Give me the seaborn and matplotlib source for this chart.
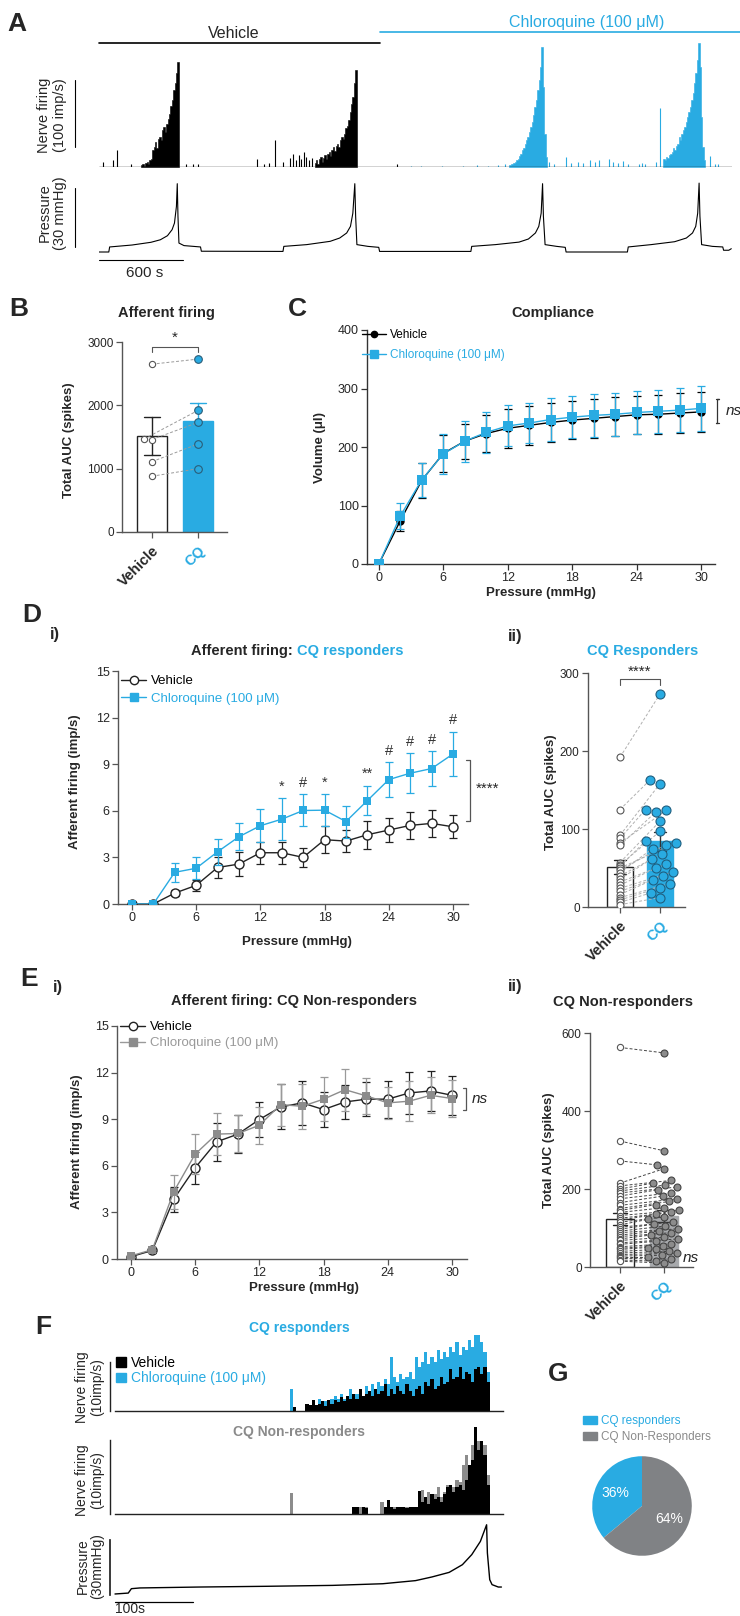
import numpy as np
import matplotlib
matplotlib.use("Agg")
import matplotlib.pyplot as plt
from matplotlib.lines import Line2D
from matplotlib.patches import Patch
import seaborn as sns

sns.set_theme(style="ticks")
plt.rcParams["font.family"] = ["Liberation Sans", "DejaVu Sans"]
NARROW = ["Liberation Sans Narrow", "Liberation Sans", "DejaVu Sans"]

CYAN = "#29abe2"
GREY_DOT = "#8c8c8c"
GREY_LINE = "#9a9a9a"
GREY_BAR = "#a7a9ac"
GREY_PIE = "#808285"
GREY_TXT = "#8a8a8a"
AXC = "#555555"

# ---------------- A: example recording (time in s, firing in imp/s, pressure in mmHg)
A_BIN = 10
a_burst_start = [300, 1540, 2930, 4030]
a_veh_burst1 = [3, 5, 2, 6, 8, 5, 10, 12, 25, 30, 38, 28, 42, 45, 40, 55, 60, 52, 65, 72,
                80, 92, 100, 115, 125, 140, 157]
a_veh_burst2 = [6, 10, 4, 12, 15, 8, 14, 18, 12, 20, 22, 16, 25, 30, 24, 32, 35, 30, 40, 45,
                42, 50, 58, 62, 70, 82, 95, 105, 125, 145]
a_cq_burst3 = [3, 4, 5, 6, 8, 10, 12, 16, 20, 25, 28, 35, 40, 45, 52, 60, 68, 78, 90, 100,
               115, 130, 150, 180, 120, 50, 15]
a_cq_burst4 = [12, 10, 15, 14, 18, 20, 22, 28, 25, 32, 35, 45, 40, 50, 55, 60, 68, 75, 82, 90,
               100, 110, 125, 140, 160, 185, 150, 75, 30, 10]
a_veh_spike_t = [27, 101, 125, 229, 623, 674, 708, 1129, 1180, 1215, 1254, 1314, 1365, 1385,
                 1405, 1425, 1445, 1465, 1480, 1500, 1520, 2125]
a_veh_spike_h = [8, 10, 25, 5, 4, 5, 4, 12, 5, 6, 40, 8, 14, 20, 10, 18, 12, 22, 15, 10, 14, 4]
a_cq_spike_t = [2225, 2300, 2450, 2600, 2700, 2780, 2850, 2900, 3215, 3250, 3336, 3370, 3420,
                3455, 3504, 3540, 3572, 3639, 3672, 3706, 3740, 3775, 3858, 3875, 3900, 3977,
                4008, 4363, 4397, 4420]
a_cq_spike_h = [2, 1, 2, 2, 3, 2, 3, 4, 8, 4, 15, 6, 8, 6, 10, 7, 11, 12, 8, 6, 9, 4, 5, 6, 4,
                8, 88, 17, 5, 4]
a_press_t = [0, 70, 76, 236, 371, 438, 489, 522, 539, 553, 559, 564, 571, 607, 725, 731, 1314, 1320,
             1483, 1651, 1719, 1769, 1796, 1813, 1827, 1833, 1842, 1921, 1998, 2004, 2656, 2662,
             2831, 3000, 3067, 3117, 3141, 3158, 3168, 3174, 3186, 3269, 3330, 3336, 3774, 3780,
             3943, 4111, 4195, 4239, 4262, 4276, 4286, 4292, 4304, 4381, 4455, 4461, 4498, 4516]
a_press_mmhg = [0, 0, 2.6, 3.6, 5.0, 6.3, 8.4, 11.5, 14.9, 23.5, 35.2, 18.4, 4.6, 3.3, 2.6, 0.4, 0.3, 2.9,
                3.8, 5.5, 7.2, 9.8, 13.2, 20, 35.2, 18.4, 3.8, 2.9, 2.4, 0.3, 0.3, 2.9,
                3.8, 5.1, 6.7, 9.8, 13.2, 20, 35.2, 18.4, 3.8, 2.9, 2.4, 0, 0, 2.6,
                3.8, 5.3, 7.2, 9.8, 13.2, 20, 35.5, 18.4, 3.8, 2.9, 2.6, 0.9, 0.9, 1.7]

# ---------------- B: afferent firing AUC (paired)
b_vehicle = [2650, 1470, 1460, 1110, 880]
b_cq = [2730, 1920, 1730, 1390, 1000]

# ---------------- C / D / E: pressure-response curves (mean, SEM)
pressure = [0, 2, 4, 6, 8, 10, 12, 14, 16, 18, 20, 22, 24, 26, 28, 30]
c_veh_mean = [0, 74, 143, 189, 210, 223, 232, 237, 242, 246, 249, 252, 255, 256, 258, 260]
c_veh_sem = [0, 17, 30, 31, 30, 32, 33, 33, 33, 33, 33, 33, 33, 33, 34, 34]
c_cq_mean = [0, 82, 144, 188, 210, 225, 236, 241, 247, 251, 254, 256, 259, 261, 263, 266]
c_cq_sem = [0, 22, 29, 35, 35, 35, 35, 35, 36, 36, 37, 37, 37, 37, 38, 38]

d_veh_mean = [0, 0, 0.7, 1.2, 2.35, 2.57, 3.3, 3.3, 3.0, 4.14, 4.05, 4.46, 4.76, 5.06, 5.19, 4.97]
d_veh_sem = [0.05, 0.05, 0.2, 0.35, 0.65, 0.78, 0.7, 0.7, 0.63, 0.88, 0.72, 0.9, 0.76, 0.86, 0.88, 0.75]
d_cq_mean = [0, 0, 2.04, 2.3, 3.36, 4.33, 5.04, 5.46, 6.02, 6.04, 5.31, 6.66, 8.01, 8.42, 8.72, 9.66]
d_cq_sem = [0.05, 0.05, 0.6, 0.7, 0.85, 0.87, 1.05, 1.34, 1.03, 1.01, 1.03, 0.95, 1.1, 1.28, 1.1, 1.43]
d_marks = {14: "*", 16: "#", 18: "*", 22: "**", 24: "#", 26: "#", 28: "#", 30: "#"}

e_veh_mean = [0.15, 0.55, 3.85, 5.87, 7.54, 8.04, 8.98, 9.79, 10.05, 9.62, 10.11, 10.29, 10.29, 10.69, 10.82, 10.54]
e_veh_sem = [0.1, 0.15, 0.8, 1.05, 1.2, 1.2, 1.1, 1.45, 1.4, 1.1, 1.1, 1.1, 1.2, 1.35, 1.3, 1.25]
e_cq_mean = [0.2, 0.6, 4.33, 6.75, 8.04, 8.08, 8.61, 9.94, 9.83, 10.29, 10.9, 10.5, 10.05, 10.16, 10.54, 10.33]
e_cq_sem = [0.1, 0.15, 1.1, 1.3, 1.35, 1.2, 1.2, 1.35, 1.45, 1.4, 1.35, 1.15, 1.05, 1.3, 1.15, 1.2]

# ---------------- D ii / E ii: total AUC per afferent (paired)
dii_vehicle = [192, 125, 92, 88, 82, 79, 57, 54, 52, 50, 47, 44, 40, 36, 32, 28, 24, 20, 16, 12, 9, 6, 3]
dii_cq = [273, 163, 158, 125, 124, 122, 110, 97, 85, 82, 80, 75, 68, 62, 55, 50, 45, 40, 35, 30, 25, 18, 12]
eii_vehicle = [563, 323, 272, 215, 208, 200, 195, 190, 182, 175, 165, 158, 150, 145, 140, 132, 125, 120,
               115, 108, 102, 97, 92, 88, 82, 78, 72, 68, 62, 58, 52, 48, 45, 40, 36, 32, 28, 25, 22, 18, 15]
eii_cq = [549, 298, 262, 252, 222, 215, 210, 205, 198, 190, 182, 175, 168, 160, 152, 145, 140, 135, 128,
          122, 115, 110, 105, 98, 92, 88, 82, 76, 72, 66, 60, 55, 50, 45, 40, 35, 30, 25, 20, 15, 10]

# ---------------- F: averaged traces (4 s bins from 224 s)
F_BIN = 4
f_t0 = 224
f_resp_cq = [4.5, 0, 0, 0, 0, 1, 0, 1.5, 1, 2.5, 1, 2, 1.5, 2.5, 3, 2.5, 3.5, 2.5, 3, 4.5,
             3, 3.5, 4, 3, 5, 4, 5.5, 4.5, 6, 5, 6.5, 5.5, 11, 7, 6, 7.5, 6.5, 7, 8, 6.5,
             11, 9, 10, 12, 9.5, 11, 10, 12.5, 10.5, 12, 11, 13, 12, 14, 11.5, 13, 12.5, 14.5, 13, 15.5,
             15.5, 14, 12, 8]
f_resp_veh = [0, 0.8, 0, 0, 0, 1.5, 1.2, 2.3, 1.2, 1.5, 2, 1, 2.3, 1.5, 2.3, 1.8, 2.8, 2, 3, 2.5,
              3.5, 2.5, 4.5, 3, 3.5, 4, 3, 4.5, 3.5, 4, 5.5, 3, 4.5, 3.5, 5, 4, 3.5, 5.5, 4, 3,
              4.5, 5, 3.5, 6, 5, 6.5, 4.5, 5, 7, 5.5, 6, 8.5, 6.5, 7, 9, 6.5, 8, 7.5, 6, 8.5,
              9, 7.5, 9, 6]
f_non_cq = [4.2, 0, 0, 0, 0, 0, 0, 0, 0, 0, 0, 0, 0, 0, 0, 0, 0, 0, 0, 0,
            0, 0, 1.5, 0, 1.5, 0, 0, 0, 0, 2.5, 0, 0, 0, 1.5, 0, 0, 0, 1.5, 0, 0,
            0, 3, 5, 3.5, 4.5, 3, 4, 5.5, 3.5, 4.5, 6, 4, 5.5, 7, 6.5, 10, 12, 9, 14, 16,
            15, 15, 14, 8]
f_non_veh = [0, 0, 0, 0, 0, 0, 0, 0, 0, 0, 0, 0, 0, 0, 0, 0, 0, 0, 0, 0,
             1.5, 1.5, 0, 1.5, 1.2, 0, 0, 0, 0, 0, 1.5, 2.9, 1.5, 1, 1.5, 1.5, 1.5, 1.2, 1.5, 1.5,
             1.5, 4.6, 2.5, 3.5, 2, 4, 3, 3.5, 2.5, 4, 5.5, 6, 4.5, 5.5, 6, 5, 7, 10, 11, 17.8,
             13, 15, 12, 6]
f_press_t = [0, 17, 21, 32, 108, 194, 279, 343, 385, 406, 428, 445, 457, 468, 476, 477, 480, 483, 491, 495]
f_press_mmhg = [0, 0.5, 2.9, 3.3, 3.8, 4.2, 4.7, 5.6, 7.3, 9.3, 11.8, 16, 21.5, 28.7, 37.8, 22.4, 7.8,
                5.1, 3.8, 3.8]

# ---------------- G: share of afferents
g_labels = ["CQ responders", "CQ Non-Responders"]
g_share = [36, 64]

W, H = 740, 1616
fig = plt.figure(figsize=(W / 100, H / 100), dpi=100)


def box(l, t, r, b):
    return fig.add_axes([l / W, 1 - b / H, (r - l) / W, (b - t) / H])


def ftext(x, y, s, **kw):
    kw.setdefault("ha", "center")
    kw.setdefault("va", "center")
    return fig.text(x / W, 1 - y / H, s, **kw)


def figpt(x, y):
    return (x / W, 1 - y / H)


def style_axes(ax, color=AXC):
    sns.despine(ax=ax)
    for s in ("left", "bottom"):
        ax.spines[s].set_color(color)
        ax.spines[s].set_linewidth(1)
    ax.tick_params(labelsize=9, length=4, width=0.9, color=color, pad=2)
    ax.set_xlabel("")
    ax.set_ylabel("")
    ax.patch.set_alpha(0)


def bare(ax):
    ax.patch.set_alpha(0)
    for s in ax.spines.values():
        s.set_visible(False)
    ax.set_xticks([])
    ax.set_yticks([])


# ================= A
axA = box(99, 40, 732, 167)
bare(axA)
for t0, h, col in zip(a_burst_start, [a_veh_burst1, a_veh_burst2, a_cq_burst3, a_cq_burst4],
                      ["black", "black", CYAN, CYAN]):
    edges = t0 + A_BIN * np.arange(len(h) + 1)
    axA.fill_between(edges, list(h) + [0], step="post", color=col, linewidth=0.4)
axA.vlines(a_veh_spike_t, 0, a_veh_spike_h, color="black", lw=0.8)
axA.vlines(a_cq_spike_t, 0, a_cq_spike_h, color=CYAN, lw=0.8)
axA.axhline(0, color="#222222", lw=1)
axA.set_xlim(0, 4521)
axA.set_ylim(0, 190)
axA.plot([-171, -171], [30, 130], color="black", lw=0.8, clip_on=False)

axP = box(99, 180, 732, 256)
sns.lineplot(x=a_press_t, y=a_press_mmhg, sort=False, estimator=None, color="black", linewidth=0.8, ax=axP)
bare(axP)
axP.set_xlabel("")
axP.set_ylabel("")
axP.set_xlim(0, 4521)
axP.set_ylim(-2.06, 37.1)
axP.plot([-171, -171], [2.6, 33], color="black", lw=0.8, clip_on=False)
axP.plot([0, 600], [-4.1, -4.1], color="black", lw=0.8, clip_on=False)

fig.add_artist(Line2D([99 / W, 380 / W], [1 - 43 / H] * 2, color="black", lw=1.2))
fig.add_artist(Line2D([380 / W, 1.0], [1 - 32 / H] * 2, color=CYAN, lw=1.2))
ftext(234, 33, "Vehicle", fontsize=11.5, family=NARROW)
ftext(587, 22, "Chloroquine (100 μM)", fontsize=11.5, family=NARROW, color=CYAN)
ftext(52, 115, "Nerve firing\n(100 imp/s)", rotation=90, fontsize=10.5, family=NARROW, linespacing=1.1)
ftext(52, 213, "Pressure\n(30 mmHg)", rotation=90, fontsize=10.5, family=NARROW, linespacing=1.1)
ftext(145, 273, "600 s", fontsize=11, family=NARROW)


# ================= paired bar helper
def paired_bars(ax, veh, cq, cq_fill, cq_err, width, cap, veh_size, cq_size, cq_dot, cq_edge, veh_swarm):
    order = ["Vehicle", "CQ"]
    sns.barplot(x=["Vehicle"] * len(veh), y=veh, order=order, errorbar="se", capsize=cap, width=width,
                color="white", saturation=1, edgecolor="#222222", linewidth=1,
                err_kws={"color": "#222222", "linewidth": 1}, ax=ax)
    sns.barplot(x=["CQ"] * len(cq), y=cq, order=order, errorbar="se", capsize=cap, width=width,
                color=cq_fill, saturation=1, edgecolor=cq_fill, linewidth=1,
                err_kws={"color": cq_err, "linewidth": 1}, ax=ax)
    n0 = len(ax.collections)
    if veh_swarm:
        sns.swarmplot(x=["Vehicle"] * len(veh), y=veh, order=order, size=veh_size, color="white",
                      edgecolor="#555555", linewidth=0.8, ax=ax)
    else:
        sns.stripplot(x=["Vehicle"] * len(veh), y=veh, order=order, jitter=False, size=veh_size,
                      color="white", edgecolor="#555555", linewidth=0.8, ax=ax)
    vpts = [c for c in ax.collections[n0:] if len(c.get_offsets())][0]
    n1 = len(ax.collections)
    sns.swarmplot(x=["CQ"] * len(cq), y=cq, order=order, size=cq_size, color=cq_dot,
                  edgecolor=cq_edge, linewidth=0.8, ax=ax)
    cpts = [c for c in ax.collections[n1:] if len(c.get_offsets())][0]
    vpts.set_zorder(4)
    cpts.set_zorder(4)
    style_axes(ax)
    ax.tick_params(axis="y", labelsize=8.5)
    ax.set_xticks([0, 1])
    ax.set_xticklabels(["Vehicle", "CQ"], rotation=45, ha="right", rotation_mode="anchor",
                       fontsize=10.5, fontweight="bold")
    ax.get_xticklabels()[1].set_color(CYAN)
    ax.tick_params(axis="x", pad=4)
    return vpts, cpts


pairs = []

# ================= B
axB = box(122, 342, 227, 532)
vp, cp = paired_bars(axB, b_vehicle, b_cq, CYAN, CYAN, 0.65, 0.35, 4.5, 5.5, CYAN, "#2a5d78", True)
pairs.append((axB, vp, cp, "#9a9a9a"))
axB.set_xlim(-0.65, 1.63)
axB.set_ylim(0, 3000)
axB.set_yticks([0, 1000, 2000, 3000])
axB.plot([0, 0, 1, 1], [2850, 2921, 2921, 2850], color=AXC, lw=0.8, clip_on=False)
axB.text(0.5, 2950, "*", ha="center", va="bottom", fontsize=11)
ftext(166, 313, "Afferent firing", fontsize=10.5, fontweight="bold")
ftext(69, 440, "Total AUC (spikes)", rotation=90, fontsize=9.5, fontweight="bold")


# ================= line helper
def curves(ax, veh_m, veh_e, cq_m, cq_e, veh_c, cq_c, veh_face, veh_ms, cq_ms, cq_err_c):
    ax.errorbar(pressure, veh_m, yerr=veh_e, fmt="none", ecolor=veh_c, elinewidth=0.9, capsize=3,
                capthick=0.9, zorder=2)
    sns.lineplot(x=pressure, y=veh_m, color=veh_c, marker="o", markersize=veh_ms, markerfacecolor=veh_face,
                 markeredgecolor=veh_c, markeredgewidth=1, linewidth=1, ax=ax, zorder=3)
    ax.errorbar(pressure, cq_m, yerr=cq_e, fmt="none", ecolor=cq_err_c, elinewidth=0.9, capsize=3,
                capthick=0.9, zorder=4)
    sns.lineplot(x=pressure, y=cq_m, color=cq_c, marker="s", markersize=cq_ms, markerfacecolor=cq_c,
                 markeredgecolor=cq_c, markeredgewidth=0, linewidth=1, ax=ax, zorder=5)
    style_axes(ax)
    ax.set_xticks([0, 6, 12, 18, 24, 30])


# ================= C
axC = box(367, 330, 715, 564)
curves(axC, c_veh_mean, c_veh_sem, c_cq_mean, c_cq_sem, "black", CYAN, "black", 5, 6.5, CYAN)
style_axes(axC, "#333333")
axC.set_xlim(-1.1, 31.3)
axC.set_ylim(0, 400)
axC.set_yticks([0, 100, 200, 300, 400])
axC.legend([Line2D([], [], color="black", marker="o", ms=4.5, lw=1),
            Line2D([], [], color=CYAN, marker="s", ms=6, lw=1)],
           ["Vehicle", "Chloroquine (100 μM)"], labelcolor=["black", CYAN], loc="upper left",
           bbox_to_anchor=figpt(362, 329), bbox_transform=fig.transFigure, frameon=False, fontsize=8.5,
           handlelength=2.0, handletextpad=0.4, labelspacing=0.7, borderpad=0, borderaxespad=0)
axC.plot([31.35, 31.65, 31.5, 31.5, 31.35, 31.65], [282, 282, 282, 241, 241, 241], color="#333333",
         lw=0.9, clip_on=False)
axC.text(32.3, 261, "ns", style="italic", fontsize=11, ha="left", va="center", clip_on=False)
ftext(553, 313, "Compliance", fontsize=10.5, fontweight="bold")
ftext(320, 447, "Volume (μl)", rotation=90, fontsize=9.5, fontweight="bold")
ftext(541, 593, "Pressure (mmHg)", fontsize=9.5, fontweight="bold")

# ================= D i
axD = box(118, 671, 468, 904)
curves(axD, d_veh_mean, d_veh_sem, d_cq_mean, d_cq_sem, "#222222", CYAN, "white", 6.5, 6, CYAN)
axD.set_xlim(-1.3, 31.4)
axD.set_ylim(0, 15)
axD.set_yticks([0, 3, 6, 9, 12, 15])
for i, p in enumerate(pressure):
    if p in d_marks:
        axD.text(p, d_cq_mean[i] + d_cq_sem[i] + 0.75, d_marks[p], ha="center", va="center", fontsize=10.5,
                 color="#333333")
axD.plot([31.2, 31.6, 31.6, 31.2], [9.27, 9.27, 5.34, 5.34], color=AXC, lw=0.9, clip_on=False)
axD.text(32.1, 7.4, "****", ha="left", va="center", fontsize=11, clip_on=False)
axD.legend([Line2D([], [], color="#222222", marker="o", mfc="white", ms=6, lw=1),
            Line2D([], [], color=CYAN, marker="s", ms=6, lw=1)],
           ["Vehicle", "Chloroquine (100 μM)"], labelcolor=["black", CYAN], loc="upper left",
           bbox_to_anchor=figpt(121, 675), bbox_transform=fig.transFigure, frameon=False, fontsize=9.5,
           handlelength=1.9, handletextpad=0.35, labelspacing=0.4, borderpad=0, borderaxespad=0)
ftext(293, 651, "Afferent firing:", ha="right", fontsize=10.5, fontweight="bold")
ftext(297, 651, "CQ responders", ha="left", fontsize=10.5, fontweight="bold", color=CYAN)
ftext(75, 782, "Afferent firing (imp/s)", rotation=90, fontsize=9.5, fontweight="bold")
ftext(297, 942, "Pressure (mmHg)", fontsize=9.5, fontweight="bold")

# ================= D ii
axDii = box(588, 673, 685, 907)
vp, cp = paired_bars(axDii, dii_vehicle, dii_cq, CYAN, "#333333", 0.65, 0.3, 5, 6.5, CYAN, "#1f5f80", False)
pairs.append((axDii, vp, cp, "#b0b0b0"))
axDii.set_xlim(-0.8, 1.625)
axDii.set_ylim(0, 300)
axDii.set_yticks([0, 100, 200, 300])
axDii.plot([0, 0, 1, 1], [285, 292, 292, 285], color=AXC, lw=0.8, clip_on=False)
axDii.text(0.5, 292, "****", ha="center", va="bottom", fontsize=11, clip_on=False)
ftext(643, 651, "CQ Responders", fontsize=10.5, fontweight="bold", color=CYAN)
ftext(551, 792, "Total AUC (spikes)", rotation=90, fontsize=9.5, fontweight="bold")

# ================= E i
axE = box(117, 1026, 467, 1259)
curves(axE, e_veh_mean, e_veh_sem, e_cq_mean, e_cq_sem, "#222222", GREY_DOT, "white", 6.5, 6, GREY_LINE)
axE.set_xlim(-1.3, 31.4)
axE.set_ylim(0, 15)
axE.set_yticks([0, 3, 6, 9, 12, 15])
axE.plot([31.0, 31.3, 31.3, 31.0], [11.0, 11.0, 9.6, 9.6], color=AXC, lw=0.9, clip_on=False)
axE.text(31.8, 10.3, "ns", style="italic", fontsize=11, ha="left", va="center", clip_on=False)
axE.legend([Line2D([], [], color="#222222", marker="o", mfc="white", ms=6, lw=1),
            Line2D([], [], color=GREY_LINE, marker="s", mfc=GREY_DOT, mec=GREY_DOT, ms=6, lw=1)],
           ["Vehicle", "Chloroquine (100 μM)"], labelcolor=["black", GREY_LINE], loc="upper left",
           bbox_to_anchor=figpt(120, 1021), bbox_transform=fig.transFigure, frameon=False, fontsize=9.5,
           handlelength=1.9, handletextpad=0.35, labelspacing=0.3, borderpad=0, borderaxespad=0)
ftext(273, 1001, "Afferent firing:", ha="right", fontsize=10.5, fontweight="bold")
ftext(277, 1001, "CQ Non-responders", ha="left", fontsize=10.5, fontweight="bold")
ftext(77, 1142, "Afferent firing (imp/s)", rotation=90, fontsize=9.5, fontweight="bold")
ftext(304, 1288, "Pressure (mmHg)", fontsize=9.5, fontweight="bold")

# ================= E ii
axEii = box(590, 1033, 693, 1267)
vp, cp = paired_bars(axEii, eii_vehicle, eii_cq, GREY_BAR, "#333333", 0.62, 0.3, 4.5, 5, GREY_DOT, "#444444",
                     False)
pairs.append((axEii, vp, cp, "#444444"))
axEii.set_xlim(-0.68, 1.66)
axEii.set_ylim(0, 600)
axEii.set_yticks([0, 200, 400, 600])
ftext(683, 1258, "ns", ha="left", fontsize=11, style="italic")
ftext(623, 1002, "CQ Non-responders", fontsize=10.5, fontweight="bold")
ftext(549, 1150, "Total AUC (spikes)", rotation=90, fontsize=9.5, fontweight="bold")

# ================= F
f_pos = f_t0 + F_BIN * np.arange(len(f_resp_cq))
axF1 = box(110, 1330, 503, 1411)
axF1.bar(f_pos, f_resp_cq, width=F_BIN, align="edge", color=CYAN, linewidth=0)
axF1.bar(f_pos, f_resp_veh, width=F_BIN, align="edge", color="black", linewidth=0)
axF2 = box(110, 1420, 503, 1514)
axF2.bar(f_pos, f_non_cq, width=F_BIN, align="edge", color=GREY_DOT, linewidth=0)
axF2.bar(f_pos, f_non_veh, width=F_BIN, align="edge", color="black", linewidth=0)
for ax, top, lim in [(axF1, 10, 16.5), (axF2, 15.1, 19.2)]:
    sns.despine(ax=ax)
    ax.set_xlim(-6.4, 497)
    ax.set_ylim(0, lim)
    ax.spines["left"].set_bounds(0, top)
    ax.spines["bottom"].set_bounds(0, 497)
    for s in ("left", "bottom"):
        ax.spines[s].set_color("#222222")
        ax.spines[s].set_linewidth(1)
    ax.set_xticks([])
    ax.set_yticks([])
    ax.patch.set_alpha(0)
axF1.legend([Patch(color="black"), Patch(color=CYAN)], ["Vehicle", "Chloroquine (100 μM)"],
            labelcolor=["black", CYAN], loc="upper left", bbox_to_anchor=figpt(116, 1356),
            bbox_transform=fig.transFigure, frameon=False, fontsize=10, handlelength=0.7, handleheight=0.7,
            handletextpad=0.4, labelspacing=0.1, borderpad=0, borderaxespad=0)

axF3 = box(110, 1520, 503, 1598)
sns.lineplot(x=f_press_t, y=f_press_mmhg, sort=False, estimator=None, color="black", linewidth=1, ax=axF3)
sns.despine(ax=axF3, bottom=True)
axF3.set_xlim(-6.4, 497)
axF3.set_ylim(-2.19, 40.4)
axF3.spines["left"].set_bounds(-0.5, 29.5)
axF3.spines["left"].set_color("#222222")
axF3.set_xticks([])
axF3.set_yticks([])
axF3.set_xlabel("")
axF3.set_ylabel("")
axF3.patch.set_alpha(0)
axF3.plot([0, 100], [-4.4, -4.4], color="black", lw=0.9, clip_on=False)
ftext(115, 1609, "100s", ha="left", fontsize=10)
ftext(299, 1328, "CQ responders", fontsize=10, fontweight="bold", color=CYAN)
ftext(299, 1432, "CQ Non-responders", fontsize=10, fontweight="bold", color=GREY_TXT)
ftext(90, 1387, "Nerve firing\n(10imp/s)", rotation=90, fontsize=10, linespacing=1.1)
ftext(90, 1480, "Nerve firing\n(10imp/s)", rotation=90, fontsize=10, linespacing=1.1)
ftext(90, 1566, "Pressure\n(30mmHg)", rotation=90, fontsize=10, linespacing=1.1)

# ================= G
axG = box(591, 1455, 693, 1557)
axG.pie(g_share, colors=[CYAN, GREY_PIE], startangle=90, counterclock=True, autopct="%d%%", radius=1.22,
        pctdistance=0.6, textprops={"color": "white", "fontsize": 10}, wedgeprops={"linewidth": 0})
axG.legend([Patch(color=CYAN), Patch(color=GREY_PIE)], g_labels, labelcolor=[CYAN, GREY_TXT],
           loc="upper left", bbox_to_anchor=figpt(583, 1415), bbox_transform=fig.transFigure,
           frameon=False, fontsize=8.5, handlelength=1.2, handleheight=0.75, handletextpad=0.3,
           labelspacing=0.35, borderpad=0, borderaxespad=0)

# ================= panel letters
for x, y, s in [(7, 12, "A"), (9, 297, "B"), (288, 297, "C"), (22, 603, "D"), (20, 967, "E"),
                (35, 1315, "F"), (548, 1362, "G")]:
    ftext(x, y, s, ha="left", va="top", fontsize=19, fontweight="bold")
for x, y, s in [(50, 635, "i)"), (508, 636, "ii)"), (53, 987, "i)"), (508, 986, "ii)")]:
    ftext(x, y, s, ha="left", fontsize=12, fontweight="bold")

# ================= pairing lines (need swarm positions, which exist after a draw)
fig.canvas.draw()
for ax, vp, cp, col in pairs:
    for (x0, y0), (x1, y1) in zip(vp.get_offsets(), cp.get_offsets()):
        ax.plot([x0, x1], [y0, y1], color=col, lw=0.7, ls=(0, (3, 2)), zorder=3)

fig.savefig("out.png", dpi=100)
